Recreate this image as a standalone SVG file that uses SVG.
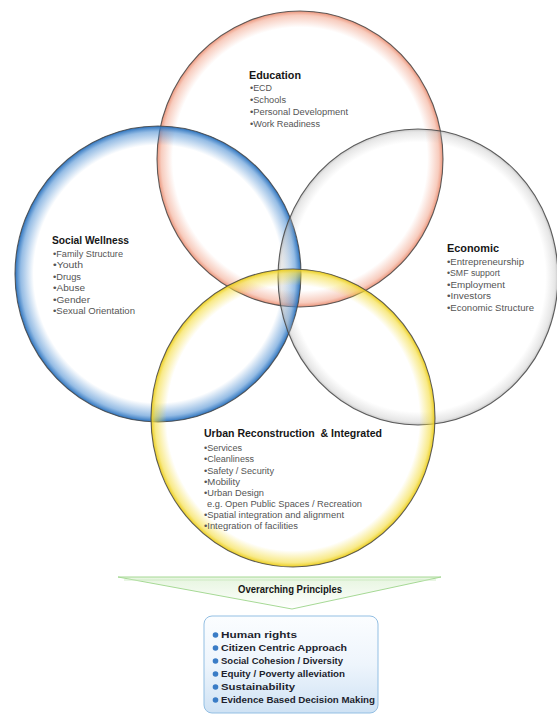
<svg xmlns="http://www.w3.org/2000/svg" width="557" height="719" viewBox="0 0 557 719">
<style>
.title{font-family:"Liberation Sans",Arial,sans-serif;font-weight:bold;font-size:11px;fill:#161616}
.item{font-family:"Liberation Sans",Arial,sans-serif;font-size:8.5px;fill:#555555}
.pr{font-family:"Liberation Sans",Arial,sans-serif;font-weight:bold;font-size:9px;fill:#1d1f2e}
.ring{stroke:#444444;stroke-width:1.1;stroke-opacity:0.85}
.dot{fill:#3a7cc6}
</style>
<defs>
<radialGradient id="gOrange"><stop offset="0" stop-color="#f09a7e" stop-opacity="0"/><stop offset="0.89" stop-color="#f09a7e" stop-opacity="0"/><stop offset="0.97" stop-color="#f09a7e" stop-opacity="0.5"/><stop offset="1" stop-color="#e8876a" stop-opacity="0.9"/></radialGradient>
<radialGradient id="gBlue"><stop offset="0" stop-color="#3f86cf" stop-opacity="0"/><stop offset="0.87" stop-color="#3f86cf" stop-opacity="0"/><stop offset="0.96" stop-color="#3f86cf" stop-opacity="0.55"/><stop offset="1" stop-color="#2a70bb" stop-opacity="1"/></radialGradient>
<radialGradient id="gGray"><stop offset="0" stop-color="#b8b8b8" stop-opacity="0"/><stop offset="0.91" stop-color="#b8b8b8" stop-opacity="0"/><stop offset="0.98" stop-color="#b8b8b8" stop-opacity="0.35"/><stop offset="1" stop-color="#999" stop-opacity="0.6"/></radialGradient>
<radialGradient id="gYellow"><stop offset="0" stop-color="#f4dc3a" stop-opacity="0"/><stop offset="0.89" stop-color="#f4dc3a" stop-opacity="0"/><stop offset="0.97" stop-color="#f4dc3a" stop-opacity="0.6"/><stop offset="1" stop-color="#eacb1c" stop-opacity="1"/></radialGradient>
<linearGradient id="gTri" x1="0" y1="0" x2="0" y2="1"><stop offset="0" stop-color="#e6f5df"/><stop offset="1" stop-color="#ffffff"/></linearGradient>
<linearGradient id="gBox" x1="0" y1="0" x2="0" y2="1"><stop offset="0" stop-color="#fbfdff"/><stop offset="0.5" stop-color="#eef5fc"/><stop offset="1" stop-color="#cfe2f4"/></linearGradient>
</defs>
<rect width="557" height="719" fill="#ffffff"/>

<g id="node-education">
<ellipse cx="300" cy="159" rx="143" ry="148" fill="url(#gOrange)" class="ring"/>
<text class="title" x="249" y="79" textLength="52" lengthAdjust="spacingAndGlyphs">Education</text>
<text class="item" x="250" y="91" textLength="22" lengthAdjust="spacingAndGlyphs">•ECD</text>
<text class="item" x="250" y="103" textLength="36" lengthAdjust="spacingAndGlyphs">•Schools</text>
<text class="item" x="250" y="115" textLength="98" lengthAdjust="spacingAndGlyphs">•Personal Development</text>
<text class="item" x="250" y="127" textLength="70" lengthAdjust="spacingAndGlyphs">•Work Readiness</text>
</g>

<g id="node-social">
<ellipse cx="158" cy="274" rx="143" ry="148" fill="url(#gBlue)" class="ring"/>
<text class="title" x="52" y="244" textLength="77" lengthAdjust="spacingAndGlyphs">Social Wellness</text>
<text class="item" x="53" y="257" textLength="70" lengthAdjust="spacingAndGlyphs">•Family Structure</text>
<text class="item" x="53" y="268" textLength="30" lengthAdjust="spacingAndGlyphs">•Youth</text>
<text class="item" x="53" y="280" textLength="28" lengthAdjust="spacingAndGlyphs">•Drugs</text>
<text class="item" x="53" y="291" textLength="32" lengthAdjust="spacingAndGlyphs">•Abuse</text>
<text class="item" x="53" y="303" textLength="37" lengthAdjust="spacingAndGlyphs">•Gender</text>
<text class="item" x="53" y="314" textLength="82" lengthAdjust="spacingAndGlyphs">•Sexual Orientation</text>
</g>

<g id="node-economic">
<ellipse cx="418" cy="277" rx="140" ry="148" fill="url(#gGray)" class="ring"/>
<text class="title" x="447" y="252" textLength="52" lengthAdjust="spacingAndGlyphs">Economic</text>
<text class="item" x="447" y="265" textLength="77" lengthAdjust="spacingAndGlyphs">•Entrepreneurship</text>
<text class="item" x="447" y="276" textLength="53" lengthAdjust="spacingAndGlyphs">•SMF support</text>
<text class="item" x="447" y="288" textLength="58" lengthAdjust="spacingAndGlyphs">•Employment</text>
<text class="item" x="447" y="299" textLength="44" lengthAdjust="spacingAndGlyphs">•Investors</text>
<text class="item" x="447" y="311" textLength="87" lengthAdjust="spacingAndGlyphs">•Economic Structure</text>
</g>

<g id="node-urban">
<ellipse cx="293" cy="418" rx="142" ry="149" fill="url(#gYellow)" class="ring"/>
<text class="title" x="204" y="437" textLength="178" lengthAdjust="spacingAndGlyphs" xml:space="preserve">Urban Reconstruction  &amp; Integrated</text>
<text class="item" x="204" y="451" textLength="38" lengthAdjust="spacingAndGlyphs">•Services</text>
<text class="item" x="204" y="462" textLength="50" lengthAdjust="spacingAndGlyphs">•Cleanliness</text>
<text class="item" x="204" y="474" textLength="70" lengthAdjust="spacingAndGlyphs">•Safety / Security</text>
<text class="item" x="204" y="485" textLength="36" lengthAdjust="spacingAndGlyphs">•Mobility</text>
<text class="item" x="204" y="496" textLength="60" lengthAdjust="spacingAndGlyphs">•Urban Design</text>
<text class="item" x="207" y="507" textLength="155" lengthAdjust="spacingAndGlyphs">e.g. Open Public Spaces / Recreation</text>
<text class="item" x="204" y="518" textLength="140" lengthAdjust="spacingAndGlyphs">•Spatial integration and alignment</text>
<text class="item" x="204" y="529" textLength="94" lengthAdjust="spacingAndGlyphs">•Integration of facilities</text>
</g>

<g id="node-overarching">
<polygon points="118,577 441,577 292,609" fill="url(#gTri)" stroke="#a6d995" stroke-width="1"/>
<polyline points="124,580 436,580" fill="none" stroke="#c8e9bd" stroke-width="0.8"/>
<text class="title" x="238" y="593" font-size="10" textLength="104" lengthAdjust="spacingAndGlyphs">Overarching Principles</text>
</g>

<g id="node-principles">
<rect x="204" y="616" width="174" height="97" rx="8" fill="url(#gBox)" stroke="#93bfe3" stroke-width="1"/>
<circle class="dot" cx="215.5" cy="635" r="2.8"/>
<circle class="dot" cx="215.5" cy="648" r="2.8"/>
<circle class="dot" cx="215.5" cy="661" r="2.8"/>
<circle class="dot" cx="215.5" cy="674" r="2.8"/>
<circle class="dot" cx="215.5" cy="687" r="2.8"/>
<circle class="dot" cx="215.5" cy="700" r="2.8"/>
<text class="pr" x="221" y="638" textLength="76" lengthAdjust="spacingAndGlyphs">Human rights</text>
<text class="pr" x="221" y="651" textLength="126" lengthAdjust="spacingAndGlyphs">Citizen Centric Approach</text>
<text class="pr" x="221" y="664" textLength="122" lengthAdjust="spacingAndGlyphs">Social Cohesion / Diversity</text>
<text class="pr" x="221" y="677" textLength="124" lengthAdjust="spacingAndGlyphs">Equity / Poverty alleviation</text>
<text class="pr" x="221" y="690" textLength="74" lengthAdjust="spacingAndGlyphs">Sustainability</text>
<text class="pr" x="221" y="703" textLength="154" lengthAdjust="spacingAndGlyphs">Evidence Based Decision Making</text>
</g>

<g id="connectors"/>
</svg>
